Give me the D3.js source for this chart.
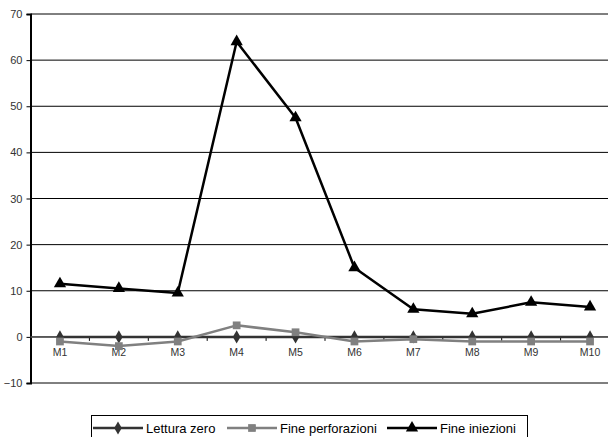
<!DOCTYPE html>
<html>
<head>
<meta charset="utf-8">
<script src="https://cdn.jsdelivr.net/npm/d3@7"></script>
<style>
  body { margin: 0; background: #fff; }
  svg { display: block; font-family: "Liberation Sans", Arial, sans-serif; }
</style>
</head>
<body>
<svg width="608" height="437"></svg>
<script>
const categories = ["M1", "M2", "M3", "M4", "M5", "M6", "M7", "M8", "M9", "M10"];
const letturaZero = [0, 0, 0, 0, 0, 0, 0, 0, 0, 0];
const finePerforazioni = [-1, -2, -1, 2.5, 1, -1, -0.5, -1, -1, -1];
const fineIniezioni = [11.5, 10.5, 9.5, 64, 47.5, 15, 6, 5, 7.5, 6.5];
const yTicks = [-10, 0, 10, 20, 30, 40, 50, 60, 70];

const series = [
  { name: "Lettura zero", values: letturaZero, color: "#333333", symbol: d3.symbolDiamond, size: 50 },
  { name: "Fine perforazioni", values: finePerforazioni, color: "#808080", symbol: d3.symbolSquare, size: 60 },
  { name: "Fine iniezioni", values: fineIniezioni, color: "#000000", symbol: d3.symbolTriangle, size: 65 }
];

const svg = d3.select("svg");
const plotLeft = 30.5, plotRight = 619.5, plotTop = 14, plotBottom = 383;

const x = d3.scaleBand().domain(categories).range([plotLeft, plotRight]);
const y = d3.scaleLinear().domain([-10, 70]).range([plotBottom, plotTop]);

// gridlines
svg.append("g")
  .selectAll("line")
  .data(yTicks)
  .enter().append("line")
  .attr("x1", plotLeft).attr("x2", plotRight)
  .attr("y1", d => y(d)).attr("y2", d => y(d))
  .attr("stroke", "#000")
  .attr("stroke-width", 1);

// y axis
const yAxis = svg.append("g")
  .attr("transform", `translate(${plotLeft},0)`)
  .call(d3.axisLeft(y).tickValues(yTicks).tickSize(4).tickPadding(4));
yAxis.select(".domain").attr("stroke", "#000").attr("stroke-width", 2);
yAxis.selectAll("text").attr("font-size", 11).attr("fill", "#333")
  .attr("font-family", "Liberation Sans, Arial, sans-serif");

// x axis on the zero line
const xAxis = svg.append("g")
  .attr("transform", `translate(0,${y(0)})`);
xAxis.append("line")
  .attr("x1", plotLeft).attr("x2", plotRight)
  .attr("stroke", "#555").attr("stroke-width", 1.5);
xAxis.selectAll(".tick")
  .data(categories.slice(1))
  .enter().append("line")
  .attr("x1", d => x(d)).attr("x2", d => x(d))
  .attr("y1", 0).attr("y2", 4)
  .attr("stroke", "#000");
xAxis.selectAll("text")
  .data(categories)
  .enter().append("text")
  .attr("x", d => x(d) + x.bandwidth() / 2)
  .attr("y", 19)
  .attr("text-anchor", "middle")
  .attr("font-size", 10.5)
  .attr("fill", "#333")
  .text(d => d);

const line = d3.line()
  .x((d, i) => x(categories[i]) + x.bandwidth() / 2)
  .y(d => y(d));

series.forEach(s => {
  svg.append("path")
    .datum(s.values)
    .attr("fill", "none")
    .attr("stroke", s.color)
    .attr("stroke-width", 2.5)
    .attr("stroke-linejoin", "round")
    .attr("d", line);
  svg.append("g")
    .selectAll("path")
    .data(s.values)
    .enter().append("path")
    .attr("d", d3.symbol().type(s.symbol).size(s.size))
    .attr("transform", (d, i) => `translate(${x(categories[i]) + x.bandwidth() / 2},${y(d)})`)
    .attr("fill", s.color);
});

// legend
const legend = svg.append("g");
legend.append("rect")
  .attr("x", 91.5).attr("y", 415.5)
  .attr("width", 436).attr("height", 25)
  .attr("fill", "#fff").attr("stroke", "#000");
const legendX = [93, 227, 387];
series.forEach((s, i) => {
  const g = legend.append("g").attr("transform", `translate(${legendX[i]},428)`);
  g.append("line").attr("x1", 0).attr("x2", 50)
    .attr("stroke", s.color).attr("stroke-width", 2.5);
  g.append("path")
    .attr("d", d3.symbol().type(s.symbol).size(s.size))
    .attr("transform", "translate(25,0)")
    .attr("fill", s.color);
  g.append("text")
    .attr("x", 53).attr("y", 4.5)
    .attr("font-size", 13)
    .attr("fill", "#000")
    .text(s.name);
});
</script>
</body>
</html>
